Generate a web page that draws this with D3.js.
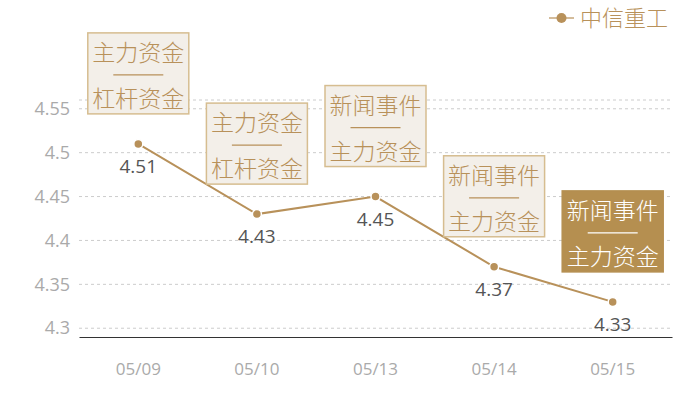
<!DOCTYPE html>
<html>
<head>
<meta charset="utf-8">
<script src="https://cdn.jsdelivr.net/npm/d3@7/dist/d3.min.js"></script>
<style>
  body { margin: 0; background: #fff; }
  text { font-family: "Noto Sans CJK SC", "Noto Sans", sans-serif; font-weight: 300; }
  .num { font-family: "Open Sans", "Noto Sans", sans-serif; font-weight: 400; }
</style>
</head>
<body>
<script>
const dates = ['05/09', '05/10', '05/13', '05/14', '05/15'];
const prices = [4.51, 4.43, 4.45, 4.37, 4.33];
const notesTop = ['主力资金', '主力资金', '新闻事件', '新闻事件', '新闻事件'];
const notesBottom = ['杠杆资金', '杠杆资金', '主力资金', '主力资金', '主力资金'];
const yTicks = [4.3, 4.35, 4.4, 4.45, 4.5, 4.55];
const seriesName = '中信重工';

const gold = '#b8915a';
const width = 700, height = 400;

const svg = d3.select('body').append('svg')
    .attr('width', width)
    .attr('height', height);

// scales
const xScale = d3.scaleBand()
    .domain(dates)
    .range([79, 672]);

const yScale = d3.scaleLinear()
    .domain([4.29, 4.56])
    .range([337, 100]);

const cx = d => xScale(d) + xScale.bandwidth() / 2;

// dashed grid lines (ticks + top edge)
svg.append('g')
    .selectAll('line')
    .data(yTicks.concat([4.56]))
    .enter()
    .append('line')
        .attr('x1', 79)
        .attr('x2', 672)
        .attr('y1', d => yScale(d))
        .attr('y2', d => yScale(d))
        .attr('stroke', '#ccc')
        .attr('stroke-dasharray', '3,3');

// y axis labels
const yAxis = d3.axisLeft(yScale)
    .tickValues(yTicks)
    .tickFormat(d => d3.format('')(+d.toFixed(2)))
    .tickSize(0)
    .tickPadding(9);

const yAxisGroup = svg.append('g')
    .attr('transform', 'translate(79,0)')
    .call(yAxis);
yAxisGroup.select('.domain').remove();
yAxisGroup.selectAll('text')
    .attr('class', 'num')
    .attr('fill', '#aaa')
    .attr('font-size', '18px');

// x axis
const xAxis = d3.axisBottom(xScale)
    .tickSize(0)
    .tickPadding(26);

const xAxisGroup = svg.append('g')
    .attr('transform', 'translate(0,337)')
    .call(xAxis);
xAxisGroup.select('.domain').attr('stroke', '#333').attr('stroke-width', 1.2);
xAxisGroup.selectAll('text')
    .attr('class', 'num')
    .attr('fill', '#aaa')
    .attr('font-size', '17px');

// line
const points = dates.map((d, i) => ({date: d, value: prices[i]}));

svg.append('path')
    .datum(points)
    .attr('fill', 'none')
    .attr('stroke', gold)
    .attr('stroke-width', 2)
    .attr('d', d3.line().x(d => cx(d.date)).y(d => yScale(d.value)));

svg.selectAll('circle.pt')
    .data(points)
    .enter()
    .append('circle')
        .attr('class', 'pt')
        .attr('cx', d => cx(d.date))
        .attr('cy', d => yScale(d.value))
        .attr('r', 4.5)
        .attr('fill', gold)
        .attr('stroke', '#fff')
        .attr('stroke-width', 1.5);

// value labels
svg.selectAll('text.val')
    .data(points)
    .enter()
    .append('text')
        .attr('class', 'val num')
        .attr('x', d => cx(d.date))
        .attr('y', d => yScale(d.value) + 29)
        .attr('text-anchor', 'middle')
        .attr('fill', '#555')
        .attr('font-size', '19px')
        .text(d => d.value.toFixed(2));

// annotation boxes
const boxW = 101, boxH = 81;
const notes = svg.selectAll('g.note')
    .data(points)
    .enter()
    .append('g')
        .attr('class', 'note')
        .attr('transform', d => `translate(${cx(d.date) - boxW / 2}, ${yScale(d.value) - 30 - boxH})`);

notes.append('rect')
    .attr('width', boxW)
    .attr('height', boxH)
    .attr('fill', (d, i) => i === points.length - 1 ? '#b58f50' : '#f3efe9')
    .attr('stroke', (d, i) => i === points.length - 1 ? '#b58f50' : '#d6bd90')
    .attr('stroke-width', 1.5);

const noteColor = (d, i) => i === points.length - 1 ? '#fff' : gold;

notes.append('text')
    .attr('x', boxW / 2)
    .attr('y', 28)
    .attr('text-anchor', 'middle')
    .attr('font-size', '23px')
    .attr('fill', noteColor)
    .text((d, i) => notesTop[i]);

notes.append('line')
    .attr('x1', boxW / 2 - 25)
    .attr('x2', boxW / 2 + 25)
    .attr('y1', 42)
    .attr('y2', 42)
    .attr('stroke', noteColor)
    .attr('stroke-width', 1.2);

notes.append('text')
    .attr('x', boxW / 2)
    .attr('y', 74)
    .attr('text-anchor', 'middle')
    .attr('font-size', '23px')
    .attr('fill', noteColor)
    .text((d, i) => notesBottom[i]);

// legend
const legend = svg.append('g').attr('transform', 'translate(549,18)');
legend.append('line')
    .attr('x1', 0).attr('x2', 25)
    .attr('stroke', gold).attr('stroke-width', 2).attr('opacity', 0.6);
legend.append('circle')
    .attr('cx', 12.5).attr('r', 5)
    .attr('fill', gold);
legend.append('text')
    .attr('x', 31)
    .attr('y', 0)
    .attr('dy', '0.35em')
    .attr('font-size', '22px')
    .attr('fill', gold)
    .text(seriesName);
</script>
</body>
</html>
